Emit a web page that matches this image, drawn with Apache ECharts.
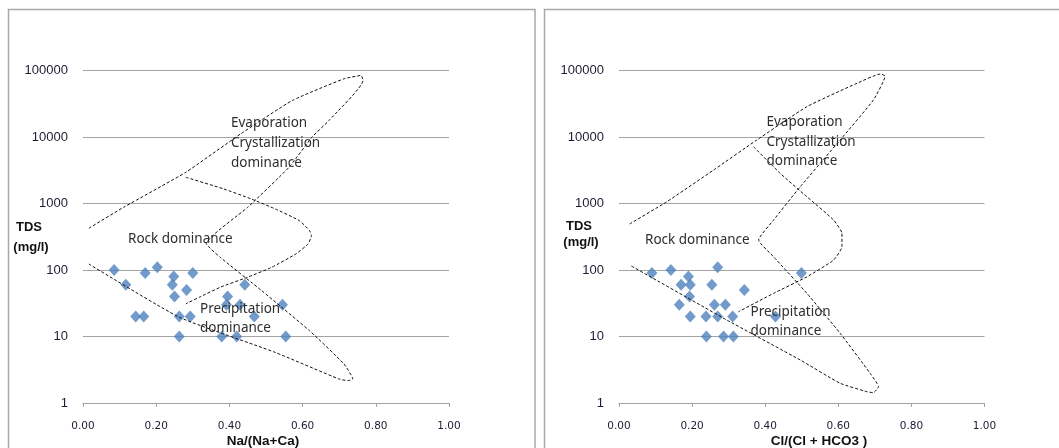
<!DOCTYPE html>
<html>
<head>
<meta charset="utf-8">
<script src="https://cdn.jsdelivr.net/npm/echarts@6/dist/echarts.min.js"></script>
<style>
html,body{margin:0;padding:0;background:#fff;}
#c{width:1059px;height:448px;}
</style>
</head>
<body>
<div id="c"></div>
<script>
// ---------- Data ----------
const xTickValues = [0, 0.2, 0.4, 0.6, 0.8, 1.0];
const yTickLabels = ['1', '10', '100', '1000', '10000', '100000'];

// Left panel: Na/(Na+Ca) vs TDS
const naRatio = [0.085, 0.117, 0.144, 0.166, 0.170, 0.203, 0.248, 0.244, 0.250, 0.263, 0.263, 0.283, 0.293, 0.300, 0.395, 0.392, 0.429, 0.379, 0.420, 0.442, 0.468, 0.545, 0.554];
const naTDS   = [100,   60,    20,    20,    90,    110,   80,    60,    40,    20,    10,    50,    20,    90,    40,    30,    30,    10,    10,    60,    20,    30,    10];

// Right panel: Cl/(Cl+HCO3) vs TDS
const clRatio = [0.090, 0.142, 0.270, 0.190, 0.170, 0.195, 0.254, 0.193, 0.343, 0.499, 0.165, 0.261, 0.291, 0.195, 0.238, 0.270, 0.311, 0.428, 0.239, 0.286, 0.313];
const clTDS   = [90,    100,   110,   80,    60,    60,    60,    40,    50,    90,    30,    30,    30,    20,    20,    20,    20,    20,    10,    10,    10];

// Gibbs boundary curves (left panel)
const naOuterX = [0.016, 0.111, 0.281, 0.431, 0.572, 0.713, 0.760, 0.765, 0.672, 0.626, 0.563, 0.450, 0.337, 0.375, 0.488, 0.619, 0.713, 0.737, 0.723, 0.699, 0.525, 0.263, 0.016];
const naOuterY = [424,   877,   2950,  11160, 35400, 75000, 84100, 70800, 17700, 10000, 3510,  877,   250,   155,   49,    12.2,  3.86,  2.30,  2.17,  2.30,  5.77,  19.5,  123];
const naInnerX = [0.281, 0.384, 0.459, 0.525, 0.591, 0.619, 0.624, 0.615, 0.582, 0.516, 0.450, 0.375, 0.318, 0.281];
const naInnerY = [2480,  1660,  1175,  830,   553,   392,   329,   247,   175,   110,   78,    55,    39,    31];

// Gibbs boundary curves (right panel)
const clOuterX = [0.029, 0.131, 0.259, 0.377, 0.514, 0.651, 0.715, 0.728, 0.696, 0.605, 0.496, 0.423, 0.382, 0.423, 0.514, 0.605, 0.687, 0.710, 0.696, 0.678, 0.605, 0.496, 0.295, 0.029];
const clOuterY = [492,   1065,  3190,  9010,  28560, 64200, 88500, 82600, 36000, 9010,  1790,  565,   283,   158,   44.6,  11.2,  2.8,   1.76,  1.43,  1.48,  1.98,  4.43,  17.7,  119];
const clInnerX = [0.368, 0.441, 0.514, 0.587, 0.610, 0.610, 0.587, 0.514, 0.423, 0.327];
const clInnerY = [7150,  2845,  1265,  565,   356,   224,   141,   79,    44.6,  23.6];

// ---------- Chart ----------
const zip = (a, b) => a.map((v, i) => [v, b[i]]);
const gridColor = '#a3a3a3';
const tickText = '#1c1c34';
const annoColor = '#2e2e2e';

function xAxisCfg(gi) {
  return {
    type: 'value', gridIndex: gi, min: 0, max: 1, interval: 0.2,
    axisLine: { show: true, lineStyle: { color: gridColor, width: 1 } },
    axisTick: { show: true, length: 4, lineStyle: { color: gridColor } },
    splitLine: { show: false },
    axisLabel: {
      margin: 18, color: tickText, fontSize: 10.5, fontFamily: 'DejaVu Sans',
      formatter: v => v.toFixed(2)
    }
  };
}
function yAxisCfg(gi) {
  return {
    type: 'log', logBase: 10, gridIndex: gi, min: 1, max: 100000,
    axisLine: { show: false }, axisTick: { show: false },
    splitLine: { show: true, lineStyle: { color: gridColor, width: 1 } },
    axisLabel: {
      margin: 15, color: tickText, fontSize: 13, fontFamily: 'Liberation Sans',
      formatter: v => yTickLabels[Math.round(Math.log10(v))] || String(v)
    }
  };
}
const lineStyle = { color: '#111', width: 1, type: [3, 2] };
function curve(gi, x, y) {
  return { type: 'line', xAxisIndex: gi, yAxisIndex: gi, data: zip(x, y), showSymbol: false, symbol: 'none', smooth: 0.15, lineStyle: lineStyle, z: 3, silent: true };
}
function pts(gi, x, y) {
  return { type: 'scatter', xAxisIndex: gi, yAxisIndex: gi, data: zip(x, y), symbol: 'diamond', symbolSize: [11, 12], itemStyle: { color: '#4f81bd' }, z: 2 };
}
function atxt(x, y, s) {
  return { type: 'text', x: x, y: y, z: 10, style: { text: s, fill: annoColor, font: '13.5px "Noto Sans"', textVerticalAlign: 'middle' } };
}
function btxt(cx, cy, s) {
  return { type: 'text', x: cx, y: cy, z: 10, style: { text: s, fill: '#111', font: 'bold 13px "Liberation Sans"', textAlign: 'center', textVerticalAlign: 'middle' } };
}

const chart = echarts.init(document.getElementById('c'), null, { renderer: 'canvas' });
chart.setOption({
  animation: false,
  backgroundColor: '#fff',
  grid: [
    { left: 83, top: 70.5, width: 366, height: 332.5 },
    { left: 619, top: 70.5, width: 365.5, height: 332.5 }
  ],
  xAxis: [xAxisCfg(0), xAxisCfg(1)],
  yAxis: [yAxisCfg(0), yAxisCfg(1)],
  series: [
    curve(0, naOuterX, naOuterY), curve(0, naInnerX, naInnerY), pts(0, naRatio, naTDS),
    curve(1, clOuterX, clOuterY), curve(1, clInnerX, clInnerY), pts(1, clRatio, clTDS)
  ],
  graphic: [
    { type: 'rect', shape: { x: 8.5, y: 9.5, width: 526.5, height: 460 }, style: { fill: 'none', stroke: '#a8a8a8', lineWidth: 1.5 }, z: 0, silent: true },
    { type: 'rect', shape: { x: 544.5, y: 9.5, width: 530, height: 460 }, style: { fill: 'none', stroke: '#a8a8a8', lineWidth: 1.5 }, z: 0, silent: true },
    // left panel texts
    atxt(231, 123.5, 'Evaporation'),
    atxt(231, 143.5, 'Crystallization'),
    atxt(231, 163, 'dominance'),
    atxt(128, 239, 'Rock dominance'),
    atxt(200, 309, 'Precipitation'),
    atxt(200, 328.5, 'dominance'),
    btxt(29, 227, 'TDS'), btxt(31, 247, '(mg/l)'),
    { type: 'text', x: 263, y: 441, z: 10, style: { text: 'Na/(Na+Ca)', fill: '#111', font: 'bold 13.5px "Liberation Sans"', textAlign: 'center', textVerticalAlign: 'middle' } },
    // right panel texts
    atxt(766.5, 122.5, 'Evaporation'),
    atxt(766.5, 142.5, 'Crystallization'),
    atxt(766.5, 161.5, 'dominance'),
    atxt(645, 240.5, 'Rock dominance'),
    atxt(750.5, 312.5, 'Precipitation'),
    atxt(750.5, 331.5, 'dominance'),
    btxt(579, 226, 'TDS'), btxt(581, 242, '(mg/l)'),
    { type: 'text', x: 819, y: 441, z: 10, style: { text: 'Cl/(Cl + HCO3 )', fill: '#111', font: 'bold 13.5px "Liberation Sans"', textAlign: 'center', textVerticalAlign: 'middle' } }
  ]
});
</script>
</body>
</html>
